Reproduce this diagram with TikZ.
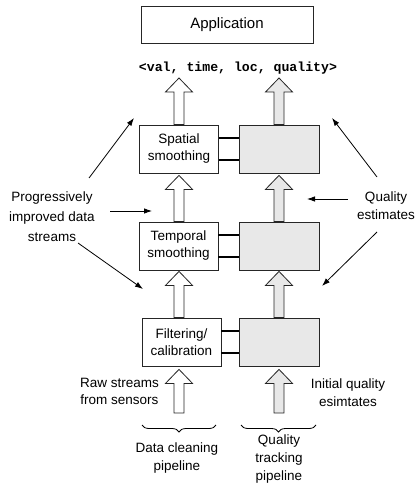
\documentclass[tikz,border=0pt]{standalone}
\usepackage{fontspec}
\setmainfont{Liberation Sans}
\setmonofont{Liberation Mono}
\usetikzlibrary{arrows.meta,calc,decorations.pathreplacing}
\newcommand\blockarr[3]{%
  \draw[blockline, fill=#3] let \p1=(#1), \p2=(#2) in
    ({\x2-5pt},{\y1}) -- ({\x2-5pt},{\y2-14pt}) -- ({\x2-13.5pt},{\y2-14pt}) -- (\x2,\y2)
    -- ({\x2+13.5pt},{\y2-14pt}) -- ({\x2+5pt},{\y2-14pt}) -- ({\x2+5pt},{\y1}) -- cycle;}
\begin{document}
\begin{tikzpicture}[x=1pt,y=-1pt,
  box/.style={draw=black!85, line width=0.8pt, minimum width=79pt, minimum height=48pt,
    align=center, inner sep=0pt, font=\fontsize{13.5}{17}\selectfont},
  qbox/.style={box, fill=black!9, minimum width=80pt},
  lbl/.style={align=center, inner sep=0pt, font=\fontsize{13.5}{18}\selectfont},
  link/.style={line width=2pt},
  blockline/.style={draw=black!85, line width=0.8pt},
  pointer/.style={line width=0.8pt, -{Latex[length=8pt,width=5.5pt]}},
  bracestyle/.style={decorate, decoration={brace, amplitude=7pt, mirror}, line width=0.8pt}]
\useasboundingbox (0,0) rectangle (416,484);

% Application and tuple
\node[box, minimum width=172pt, minimum height=37pt, font=\fontsize{15}{18}\selectfont] (app) at (227,24.5) {Application};
\node[inner sep=0pt, font=\fontsize{13.2}{15}\selectfont\ttfamily\bfseries] (tuple) at (238,68) {<val, time, loc, quality>};
\coordinate (tupL) at (179,78);
\coordinate (tupR) at (279,78);

% Data cleaning pipeline
\node[box] (spatial) at (179,149) {Spatial\\smoothing};
\node[box] (temporal) at (178.5,246) {Temporal\\smoothing};
\node[box] (filter) at (181.5,342) {Filtering/\\calibration};

% Quality tracking pipeline
\node[qbox] (q1) at (279,149) {};
\node[qbox] (q2) at (279,246) {};
\node[qbox] (q3) at (279,342) {};

% Links
\foreach \a/\b in {spatial/q1, temporal/q2, filter/q3}{
  \draw[link] ([yshift=11pt]\a.east) -- ([yshift=11pt]\b.west);
  \draw[link] ([yshift=-11pt]\a.east) -- ([yshift=-11pt]\b.west);
}

% Block arrows
\coordinate (bL) at (179,413);
\coordinate (bR) at (279,413);
\blockarr{spatial.north}{tupL}{white}
\blockarr{q1.north}{tupR}{black!9}
\blockarr{temporal.north}{$(spatial.south)+(0,2)$}{white}
\blockarr{q2.north}{$(q1.south)+(0,2)$}{black!9}
\blockarr{filter.north}{$(bL |- temporal.south)+(0,1)$}{white}
\blockarr{q3.north}{$(q2.south)+(0,1)$}{black!9}
\blockarr{bL}{$(bL |- filter.south)+(0,3)$}{white}
\blockarr{bR}{$(q3.south)+(0,3)$}{black!9}

% Side labels
\node[lbl, font=\fontsize{13.5}{20}\selectfont] (prog) at (52,217) {Progressively\\improved data\\streams};
\node[lbl] (qual) at (386,206) {Quality\\estimates};
\node[lbl, font=\fontsize{13.5}{17}\selectfont] (raw) at (119.5,391.5) {Raw streams\\from sensors};
\node[lbl] (init) at (348,392.5) {Initial quality\\esimtates};

% Pointer arrows
\coordinate (pl1s) at (89,178);  \coordinate (pl1e) at (134,118);
\coordinate (pl2s) at (110,211); \coordinate (pl2e) at (152,211);
\coordinate (pl3s) at (78,243);  \coordinate (pl3e) at (143,289);
\coordinate (pr1s) at (377,177); \coordinate (pr1e) at (332,118);
\coordinate (pr2s) at (348,199); \coordinate (pr2e) at (307,199);
\coordinate (pr3s) at (377,232); \coordinate (pr3e) at (322,286);
\foreach \s in {pl1,pl2,pl3,pr1,pr2,pr3}{
  \draw[pointer] (\s s) -- (\s e);
}

% Braces and pipeline labels
\coordinate (brL1) at (142,425); \coordinate (brL2) at (216,425);
\coordinate (brR1) at (241,425); \coordinate (brR2) at (316,425);
\draw[bracestyle] (brL1) -- (brL2);
\draw[bracestyle] (brR1) -- (brR2);
\node[lbl] (dcp) at (177,458) {Data cleaning\\pipeline};
\node[lbl] (qtp) at (279,459) {Quality\\tracking\\pipeline};
\end{tikzpicture}
\end{document}
